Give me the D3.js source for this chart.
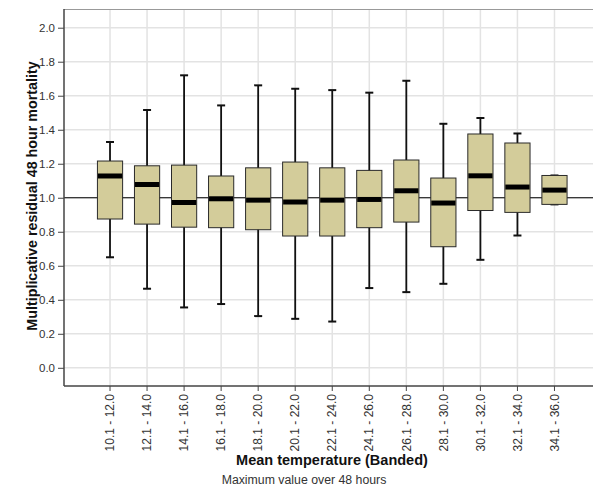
<!DOCTYPE html>
<html>
<head>
<meta charset="utf-8">
<script src="https://cdn.jsdelivr.net/npm/d3@7"></script>
<style>
  body { margin: 0; background: #fff; }
  svg { display: block; font-family: "Liberation Sans", Arial, sans-serif; }
</style>
</head>
<body>
<div id="chart"></div>
<script>
// bands of mean temperature
var categories = ["10.1 - 12.0", "12.1 - 14.0", "14.1 - 16.0", "16.1 - 18.0", "18.1 - 20.0",
  "20.1 - 22.0", "22.1 - 24.0", "24.1 - 26.0", "26.1 - 28.0", "28.1 - 30.0",
  "30.1 - 32.0", "32.1 - 34.0", "34.1 - 36.0"];

// box stats
var whiskerLow = [0.65, 0.465, 0.355, 0.375, 0.304, 0.288, 0.272, 0.469, 0.445, 0.494, 0.635, 0.778, 0.961];
var q1         = [0.875, 0.845, 0.827, 0.824, 0.812, 0.775, 0.775, 0.824, 0.857, 0.712, 0.925, 0.914, 0.961];
var median     = [1.128, 1.078, 0.972, 0.994, 0.986, 0.975, 0.986, 0.99, 1.041, 0.969, 1.129, 1.063, 1.045];
var q3         = [1.216, 1.188, 1.192, 1.128, 1.176, 1.21, 1.176, 1.161, 1.222, 1.116, 1.375, 1.322, 1.131];
var whiskerHigh= [1.328, 1.516, 1.72, 1.543, 1.661, 1.641, 1.633, 1.618, 1.688, 1.435, 1.469, 1.378, 1.131];

var yTicks = [0, 0.2, 0.4, 0.6, 0.8, 1.0, 1.2, 1.4, 1.6, 1.8, 2.0];
var refLine = 1.0;

var width = 593, height = 488;
// plot frame (named to avoid window.top)
var plotL = 64, plotT = 9, plotR = 593, plotB = 386;

var svg = d3.select('#chart').append('svg')
    .attr('width', width)
    .attr('height', height);

var y = d3.scaleLinear().domain([-0.107, 2.11]).range([plotB, plotT]);
var x = d3.scaleBand().domain(categories).range([91.5, 573]).padding(0);
var boxW = x.bandwidth() * 0.68;

var data = categories.map(function(c, i) {
    return { cat: c, lo: whiskerLow[i], q1: q1[i], med: median[i], q3: q3[i], hi: whiskerHigh[i] };
});

// grid
svg.append('g').selectAll('line')
    .data(yTicks).enter().append('line')
    .attr('x1', plotL).attr('x2', plotR)
    .attr('y1', function(d) { return y(d); })
    .attr('y2', function(d) { return y(d); })
    .attr('stroke', '#e3e3e3').attr('stroke-width', 1.5);

svg.append('g').selectAll('line')
    .data(categories).enter().append('line')
    .attr('x1', function(d) { return x(d) + x.bandwidth() / 2; })
    .attr('x2', function(d) { return x(d) + x.bandwidth() / 2; })
    .attr('y1', plotT).attr('y2', plotB)
    .attr('stroke', '#e3e3e3').attr('stroke-width', 1.5);

// top border
svg.append('line')
    .attr('x1', plotL).attr('x2', plotR).attr('y1', plotT + 0.5).attr('y2', plotT + 0.5)
    .attr('stroke', '#999');

// reference line
svg.append('line')
    .attr('x1', plotL).attr('x2', plotR)
    .attr('y1', y(refLine)).attr('y2', y(refLine))
    .attr('stroke', '#000').attr('stroke-width', 1.2);

// boxes
var node = svg.append('g').selectAll('g')
    .data(data).enter().append('g')
    .attr('transform', function(d) { return 'translate(' + (x(d.cat) + x.bandwidth() / 2) + ',0)'; });

node.append('line')
    .attr('x1', 0).attr('x2', 0)
    .attr('y1', function(d) { return y(d.hi); })
    .attr('y2', function(d) { return y(d.lo); })
    .attr('stroke', '#111').attr('stroke-width', 1.8);

node.append('line')
    .attr('x1', -4).attr('x2', 4)
    .attr('y1', function(d) { return y(d.hi); })
    .attr('y2', function(d) { return y(d.hi); })
    .attr('stroke', '#111').attr('stroke-width', 2);

node.append('line')
    .attr('x1', -4).attr('x2', 4)
    .attr('y1', function(d) { return y(d.lo); })
    .attr('y2', function(d) { return y(d.lo); })
    .attr('stroke', '#111').attr('stroke-width', 2);

node.append('rect')
    .attr('x', -boxW / 2)
    .attr('width', boxW)
    .attr('y', function(d) { return y(d.q3); })
    .attr('height', function(d) { return y(d.q1) - y(d.q3); })
    .attr('fill', '#d3cc9a')
    .attr('stroke', '#2a2a2a').attr('stroke-width', 1);

node.append('line')
    .attr('x1', -boxW / 2 + 0.5).attr('x2', boxW / 2 - 0.5)
    .attr('y1', function(d) { return y(d.med); })
    .attr('y2', function(d) { return y(d.med); })
    .attr('stroke', '#000').attr('stroke-width', 5);

// axes
var yAxis = svg.append('g')
    .attr('transform', 'translate(' + plotL + ',0)')
    .call(d3.axisLeft(y).tickValues(yTicks).tickFormat(d3.format('.1f')).tickSize(6).tickSizeOuter(0));
yAxis.select('.domain').attr('stroke', '#444').attr('stroke-width', 1.5)
    .attr('d', 'M0,' + plotT + 'V' + plotB);
yAxis.selectAll('.tick line').attr('stroke', '#444');
yAxis.selectAll('.tick text').attr('font-size', 11.5).attr('fill', '#333')
    .attr('font-family', '"Liberation Sans", Arial, sans-serif').attr('x', -9);

var xAxis = svg.append('g')
    .attr('transform', 'translate(0,' + plotB + ')')
    .call(d3.axisBottom(x).tickSize(5).tickSizeOuter(0));
xAxis.select('.domain').attr('stroke', '#444').attr('stroke-width', 1.5)
    .attr('d', 'M' + plotL + ',0H' + plotR);
xAxis.selectAll('.tick line').attr('stroke', '#444');
xAxis.selectAll('.tick text')
    .attr('font-size', 12).attr('fill', '#333')
    .attr('font-family', '"Liberation Sans", Arial, sans-serif')
    .attr('transform', 'rotate(-90)')
    .attr('x', -8).attr('y', 0).attr('dy', '0.35em')
    .style('text-anchor', 'end');

// titles
svg.append('text')
    .attr('transform', 'translate(37,196) rotate(-90)')
    .attr('text-anchor', 'middle')
    .attr('font-size', 14.3).attr('font-weight', 'bold').attr('fill', '#111')
    .text('Multiplicative residual 48 hour mortality');

svg.append('text')
    .attr('x', 332).attr('y', 465)
    .attr('text-anchor', 'middle')
    .attr('font-size', 14.5).attr('font-weight', 'bold').attr('fill', '#111')
    .text('Mean temperature (Banded)');

svg.append('text')
    .attr('x', 304).attr('y', 484)
    .attr('text-anchor', 'middle')
    .attr('font-size', 12.3).attr('fill', '#333')
    .text('Maximum value over 48 hours');
</script>
</body>
</html>
